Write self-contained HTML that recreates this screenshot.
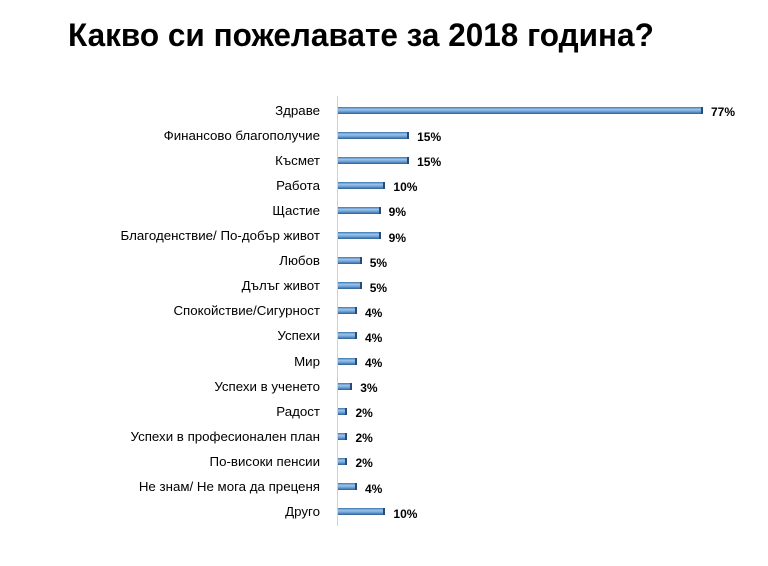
<!DOCTYPE html>
<html><head><meta charset="utf-8"><style>
body{margin:0;background:#fff;width:768px;height:566px;overflow:hidden;position:relative;font-family:"Liberation Sans",sans-serif}
.t{position:absolute;left:68px;top:17px;font-size:32px;font-weight:bold;color:#000;white-space:nowrap;transform:scaleX(0.985);transform-origin:left}
.l{position:absolute;right:448px;font-size:13.3px;color:#000;white-space:nowrap;line-height:16px}
.b{position:absolute;left:338px;height:7px;background:linear-gradient(#3f78b0,#9cc4ec 35%,#6a9fd6 65%,#2f5f92);border-right:2px solid #2a4a70;box-sizing:border-box}
.v{position:absolute;font-size:12px;font-weight:bold;line-height:14px}
.ax{position:absolute;left:337px;top:96px;width:1px;height:430px;background:#d0d0d0}
</style></head><body>
<div class="t">Какво си пожелавате за 2018 година?</div>
<div class="ax"></div>
<div id="c"></div>
<script>
var d=[["Здраве",77],["Финансово благополучие",15],["Късмет",15],["Работа",10],["Щастие",9],["Благоденствие/ По-добър живот",9],["Любов",5],["Дълъг живот",5],["Спокойствие/Сигурност",4],["Успехи",4],["Мир",4],["Успехи в ученето",3],["Радост",2],["Успехи в професионален план",2],["По-високи пенсии",2],["Не знам/ Не мога да преценя",4],["Друго",10]];
var h="";d.forEach(function(r,i){var y=110+i*25.1,w=r[1]*4.74;
h+='<div class="l" style="top:'+(y-7.5)+'px">'+r[0]+'</div><div class="b" style="top:'+(y-3.5)+'px;width:'+w+'px"></div><div class="v" style="top:'+(y-5)+'px;left:'+(338+w+8)+'px">'+r[1]+'%</div>';});
document.getElementById("c").innerHTML=h;
</script>
</body></html>
